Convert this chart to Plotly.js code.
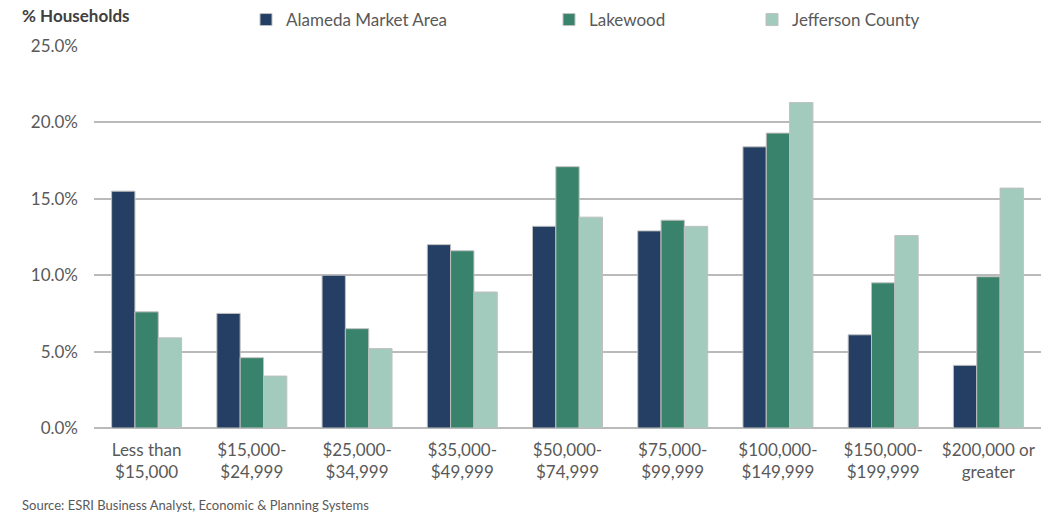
<!DOCTYPE html>
<html>
<head>
<meta charset="utf-8">
<script src="https://cdn.plot.ly/plotly-3.0.1.min.js"></script>
<style>html,body{margin:0;padding:0;background:#fff;}#chart{width:1050px;height:514px;}</style>
</head>
<body>
<div id="chart"></div>
<script>
const categories = ["Less than<br>$15,000", "$15,000-<br>$24,999", "$25,000-<br>$34,999", "$35,000-<br>$49,999", "$50,000-<br>$74,999", "$75,000-<br>$99,999", "$100,000-<br>$149,999", "$150,000-<br>$199,999", "$200,000 or<br>greater"];
const alameda = [15.5, 7.5, 10.0, 12.0, 13.2, 12.9, 18.4, 6.1, 4.1];
const lakewood = [7.6, 4.6, 6.5, 11.6, 17.1, 13.6, 19.3, 9.5, 9.9];
const jefferson = [5.9, 3.4, 5.2, 8.9, 13.8, 13.2, 21.3, 12.6, 15.7];
const seriesNames = ["Alameda Market Area", "Lakewood", "Jefferson County"];
const yTicks = [0, 5, 10, 15, 20, 25];
const yTickLabels = yTicks.map(v => v.toFixed(1) + "%");

const FONT = "Lato, 'Open Sans', sans-serif";
const colors = ["#243F63", "#39826B", "#A2CBBD"];
const legendNames = ["legend", "legend2", "legend3"];
const data = [alameda, lakewood, jefferson].map((vals, i) => ({
  type: "bar",
  name: seriesNames[i],
  x: categories,
  y: vals,
  legend: legendNames[i],
  marker: {color: colors[i], line: {color: "#C0C0C0", width: 1}},
  hoverinfo: "skip"
}));

const legendBase = {
  orientation: "h", yref: "container", y: 1 - 2 / 514, yanchor: "top",
  xref: "container", xanchor: "left",
  font: {family: FONT, size: 17, color: "#595959"},
  itemwidth: 30, bgcolor: "rgba(0,0,0,0)", borderwidth: 0
};
const L = 94, W = 947;
const px = v => (v - L) / W;
const cx = v => v / 1050;

const layout = {
  width: 1050, height: 514,
  margin: {l: L, r: 1050 - L - W, t: 46, b: 86},
  paper_bgcolor: "#fff", plot_bgcolor: "#fff",
  barmode: "group", bargap: 0.335, bargroupgap: 0,
  font: {family: FONT, color: "#595959"},
  showlegend: true,
  legend: Object.assign({}, legendBase, {x: cx(246)}),
  legend2: Object.assign({}, legendBase, {x: cx(549)}),
  legend3: Object.assign({}, legendBase, {x: cx(752)}),
  xaxis: {
    type: "category", showgrid: false, showline: false, ticks: "",
    ticklabelstandoff: 10,
    tickfont: {family: FONT, size: 17, color: "#595959"}
  },
  yaxis: {
    range: [0, 25], tickmode: "array", tickvals: yTicks, ticktext: yTickLabels,
    showgrid: true, gridcolor: "#BABABA", gridwidth: 2,
    zeroline: true, zerolinecolor: "#BABABA", zerolinewidth: 2,
    showline: false, ticks: "", ticklabelstandoff: 15,
    tickfont: {family: FONT, size: 17, color: "#595959"}
  },
  annotations: [
    {text: "<b>% Households</b>", xref: "paper", yref: "paper", x: px(20), y: 1, xanchor: "left", yanchor: "bottom", yshift: 18, showarrow: false, font: {family: FONT, size: 17, color: "#404040"}},
    {text: "Source: ESRI Business Analyst, Economic & Planning Systems", xref: "paper", yref: "paper", x: px(20), y: 0, xanchor: "left", yanchor: "top", yshift: -67, showarrow: false, font: {family: FONT, size: 13, color: "#595959"}}
  ]
};

Plotly.newPlot("chart", data, layout, {displayModeBar: false, staticPlot: true});
</script>
</body>
</html>
